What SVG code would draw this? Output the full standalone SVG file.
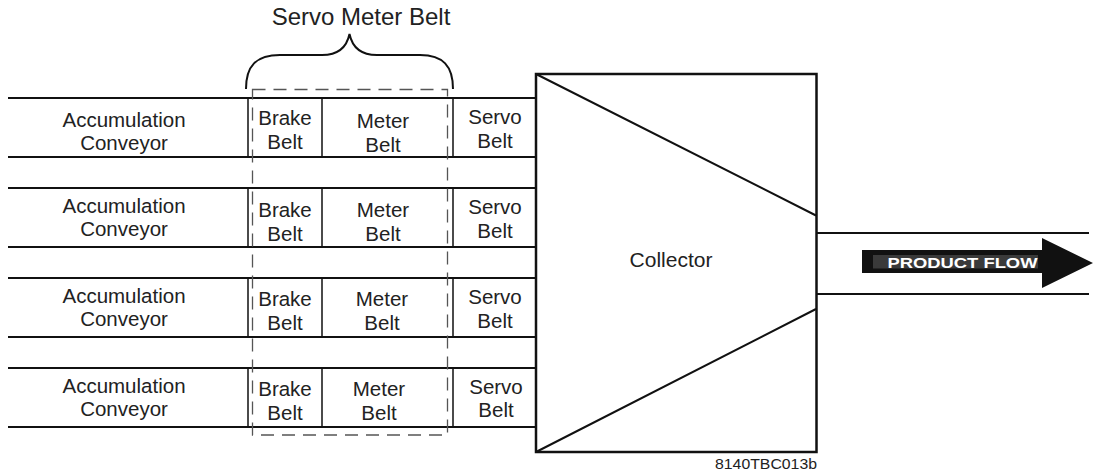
<svg xmlns="http://www.w3.org/2000/svg" width="1095" height="472" viewBox="0 0 1095 472">
<style>
.t{font-family:"Liberation Sans",Arial,sans-serif;font-size:20.5px;fill:#222;text-anchor:middle}
.ln{stroke:#111;stroke-width:2;fill:none}
.dv{stroke:#111;stroke-width:1.5;fill:none}
.dash{stroke:#555;stroke-width:1.3;fill:none;stroke-dasharray:13 8}
</style>
<rect width="1095" height="472" fill="#fff"/>

<g id="servo-meter-label">
<text class="t" x="361" y="25" style="font-size:24px">Servo Meter Belt</text>
<path class="ln" d="M246,89 C246,66 256,55 280,55 L322,55 C339,55 347,46 349.5,34 C352,46 360,55 377,55 L420,55 C443,55 453,66 453,89"/>
</g>

<g id="row1">
<path class="ln" d="M8,98 H536 M8,157 H536"/>
<path class="dv" d="M248,98 V157 M322,98 V157 M453,98 V157"/>
<text class="t" x="124" y="127">Accumulation</text><text class="t" x="124" y="150">Conveyor</text>
<text class="t" x="285" y="125">Brake</text><text class="t" x="285" y="149">Belt</text>
<text class="t" x="383" y="128">Meter</text><text class="t" x="383" y="151.5">Belt</text>
<text class="t" x="495" y="124">Servo</text><text class="t" x="495" y="147.5">Belt</text>
</g>

<g id="row2">
<path class="ln" d="M8,188 H536 M8,247 H536"/>
<path class="dv" d="M248,188 V247 M322,188 V247 M453,188 V247"/>
<text class="t" x="124" y="213">Accumulation</text><text class="t" x="124" y="236">Conveyor</text>
<text class="t" x="285" y="217">Brake</text><text class="t" x="285" y="240.5">Belt</text>
<text class="t" x="383" y="217">Meter</text><text class="t" x="383" y="240.5">Belt</text>
<text class="t" x="495" y="214">Servo</text><text class="t" x="495" y="237.5">Belt</text>
</g>

<g id="row3">
<path class="ln" d="M8,278 H536 M8,337 H536"/>
<path class="dv" d="M248,278 V337 M322,278 V337 M453,278 V337"/>
<text class="t" x="124" y="303">Accumulation</text><text class="t" x="124" y="326">Conveyor</text>
<text class="t" x="285" y="306">Brake</text><text class="t" x="285" y="330">Belt</text>
<text class="t" x="382" y="306">Meter</text><text class="t" x="382" y="330">Belt</text>
<text class="t" x="495" y="304">Servo</text><text class="t" x="495" y="327.5">Belt</text>
</g>

<g id="row4">
<path class="ln" d="M8,368 H536 M8,427 H536"/>
<path class="dv" d="M248,368 V427 M322,368 V427 M453,368 V427"/>
<text class="t" x="124" y="393">Accumulation</text><text class="t" x="124" y="416">Conveyor</text>
<text class="t" x="285" y="396">Brake</text><text class="t" x="285" y="419.5">Belt</text>
<text class="t" x="379" y="396">Meter</text><text class="t" x="379" y="420">Belt</text>
<text class="t" x="496" y="393.5">Servo</text><text class="t" x="496" y="417">Belt</text>
</g>

<g id="servo-meter-group">
<rect class="dash" x="252.5" y="89.5" width="195" height="345.5"/>
</g>

<g id="collector">
<rect x="536" y="74" width="280.5" height="378" fill="none" stroke="#111" stroke-width="2.5"/>
<path class="ln" d="M536,74 L816,215.5 M536,452 L816,309"/>
<text class="t" x="671" y="266.5" style="font-size:21px">Collector</text>
</g>

<g id="product-flow">
<path class="ln" d="M816,233 H1089 M816,294 H1089"/>
<path d="M862,250 L1042,250 L1042,238 L1093,263 L1042,288 L1042,273 L862,273 Z" fill="#111"/>
<rect x="873" y="255" width="165" height="13.5" fill="#3a3a3a"/>
<text x="962.5" y="267.5" style="font-family:'Liberation Sans',Arial,sans-serif;font-size:14.5px;font-weight:bold;fill:#fff;text-anchor:middle" textLength="150" lengthAdjust="spacingAndGlyphs">PRODUCT FLOW</text>
</g>

<text x="766" y="468.5" style="font-family:'Liberation Sans',Arial,sans-serif;font-size:14px;fill:#222;text-anchor:middle" textLength="102" lengthAdjust="spacingAndGlyphs">8140TBC013b</text>
</svg>
